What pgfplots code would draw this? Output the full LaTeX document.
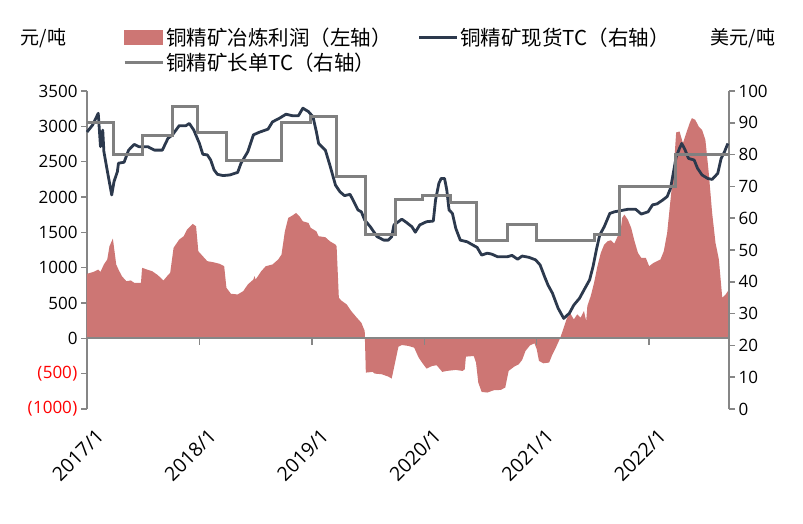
\documentclass[border=0pt]{standalone}
\usepackage{pgfplots}
\pgfplotsset{compat=1.18}
\usepackage{fontspec}
\setmainfont{Open Sans}
\newfontfamily\cjk{Noto Sans CJK SC}
\definecolor{areac}{RGB}{205,118,116}
\definecolor{spotc}{RGB}{44,57,77}
\definecolor{longc}{RGB}{128,128,128}
\definecolor{axc}{RGB}{134,134,134}
\begin{document}
\begin{tikzpicture}
\path[use as bounding box] (-87pt,-114pt) rectangle (716pt,409pt);
\begin{axis}[
  at={(0pt,0pt)}, anchor=south west,
  scale only axis, width=642pt, height=318pt,
  xmin=2017, xmax=2022.71, ymin=-1000, ymax=3500,
  axis y line*=left, axis x line*=bottom,
  x axis line style={draw=none},
  y axis line style={draw=axc, line width=2pt},
  xtick={2017,2018,2019,2020,2021,2022},
  xticklabels={2017/1,2018/1,2019/1,2020/1,2021/1,2022/1},
  major x tick style={draw=none},
  ytick={-1000,-500,0,500,1000,1500,2000,2500,3000,3500},
  yticklabels={\textcolor{red}{(\kern0.5pt1000\kern0.5pt)},\textcolor{red}{(\kern0.5pt500\kern0.5pt)},0,500,1000,1500,2000,2500,3000,3500},
  major y tick style={draw=axc, line width=1.5pt},
  tick align=outside, major tick length=6pt,
  tick label style={font=\fontsize{17}{17}\selectfont, text=black},
  xticklabel style={rotate=45, anchor=east, font=\fontsize{19.5}{19.5}\selectfont, yshift=-22pt, xshift=0pt},
  clip=false,
]
\addplot[fill=areac, draw=none] coordinates {
(2017.00,913)(2017.06,941)(2017.10,974)(2017.12,941)(2017.15,1045)(2017.18,1115)(2017.20,1303)(2017.23,1412)(2017.26,1045)(2017.28,974)(2017.31,880)(2017.35,809)(2017.39,819)(2017.42,786)(2017.48,786)(2017.49,998)(2017.54,970)(2017.58,950)(2017.63,894)(2017.68,819)(2017.72,894)(2017.74,928)(2017.77,1281)(2017.82,1398)(2017.86,1445)(2017.89,1539)(2017.94,1620)(2017.97,1586)(2017.99,1233)(2018.03,1162)(2018.07,1092)(2018.12,1078)(2018.18,1054)(2018.22,1021)(2018.24,716)(2018.28,631)(2018.34,621)(2018.39,668)(2018.43,762)(2018.48,833)(2018.49,880)(2018.50,833)(2018.55,950)(2018.59,1021)(2018.65,1045)(2018.70,1115)(2018.73,1186)(2018.76,1515)(2018.79,1704)(2018.83,1741)(2018.86,1775)(2018.89,1727)(2018.92,1656)(2018.97,1633)(2018.99,1563)(2019.04,1515)(2019.06,1445)(2019.12,1431)(2019.16,1374)(2019.21,1327)(2019.22,1303)(2019.24,575)(2019.26,537)(2019.31,480)(2019.35,386)(2019.40,292)(2019.44,221)(2019.47,104)(2019.48,-485)(2019.54,-475)(2019.56,-499)(2019.62,-508)(2019.68,-541)(2019.71,-569)(2019.74,-343)(2019.77,-118)(2019.80,-94)(2019.86,-108)(2019.91,-132)(2019.95,-273)(2019.98,-343)(2020.02,-428)(2020.07,-391)(2020.11,-381)(2020.16,-475)(2020.20,-461)(2020.28,-447)(2020.34,-461)(2020.36,-438)(2020.37,-259)(2020.44,-250)(2020.46,-343)(2020.48,-626)(2020.51,-758)(2020.56,-767)(2020.62,-734)(2020.68,-730)(2020.72,-696)(2020.75,-461)(2020.80,-400)(2020.84,-367)(2020.87,-306)(2020.90,-179)(2020.94,-99)(2020.98,-71)(2021.00,-155)(2021.02,-320)(2021.06,-353)(2021.11,-343)(2021.14,-226)(2021.17,-132)(2021.21,10)(2021.24,151)(2021.27,292)(2021.30,348)(2021.33,268)(2021.36,339)(2021.39,292)(2021.42,386)(2021.44,245)(2021.45,456)(2021.48,597)(2021.51,786)(2021.54,1021)(2021.57,1210)(2021.60,1327)(2021.63,1374)(2021.66,1388)(2021.69,1341)(2021.72,1445)(2021.74,1445)(2021.76,1704)(2021.78,1751)(2021.81,1680)(2021.84,1563)(2021.87,1374)(2021.90,1210)(2021.93,1139)(2021.97,1139)(2022.00,1021)(2022.04,1069)(2022.07,1092)(2022.10,1115)(2022.13,1233)(2022.16,1492)(2022.19,1963)(2022.22,2433)(2022.24,2913)(2022.27,2927)(2022.30,2763)(2022.33,2904)(2022.36,3046)(2022.38,3116)(2022.41,3092)(2022.44,2998)(2022.47,2951)(2022.50,2810)(2022.53,2340)(2022.56,1775)(2022.59,1351)(2022.62,1115)(2022.65,575)(2022.68,621)(2022.71,692)
} \closedcycle;
\draw[axc, line width=2pt] (axis cs:2017,0) -- (axis cs:2022.71,0);
\pgfplotsinvokeforeach{2018,2019,2020,2021,2022}{\draw[axc, line width=1.5pt] (axis cs:#1,0) -- ++(0pt,-7pt);}
\node[font=\cjk\fontsize{19}{19}\selectfont] at (axis description cs:-0.068,1.167) {元/吨};
\node[font=\cjk\fontsize{19}{19}\selectfont] at (axis description cs:1.022,1.167) {美元/吨};
\end{axis}
\begin{axis}[
  at={(0pt,0pt)}, anchor=south west,
  scale only axis, width=642pt, height=318pt,
  xmin=2017, xmax=2022.71, ymin=0, ymax=100,
  axis y line*=right, axis x line=none,
  y axis line style={draw=axc, line width=2pt},
  ytick={0,10,20,30,40,50,60,70,80,90,100},
  major y tick style={draw=axc, line width=1.5pt},
  tick align=outside, major tick length=6pt,
  yticklabel style={font=\fontsize{17}{17}\selectfont, text=black, /pgf/number format/assume math mode=true},
  legend columns=2,
  legend cell align=left,
  legend style={at={(axis description cs:0.056,1.206)}, anchor=north west, draw=none, fill=none,
    font=\cjk\fontsize{20.5}{20.5}\selectfont, inner sep=0pt,
    /tikz/every even column/.append style={column sep=24pt},
    row sep=2pt},
  clip=false,
]
\addlegendimage{legend image code/.code={\fill[areac] (0pt,-7pt) rectangle (38pt,7pt);}}
\addlegendentry{铜精矿冶炼利润（左轴）}
\addplot[spotc, line width=2.8pt, line join=round, legend image code/.code={\draw[spotc, line width=2.8pt] (0pt,0pt) -- (38pt,0pt);}] coordinates {
(2017.00,87.1)(2017.05,89.3)(2017.10,93.0)(2017.12,82.5)(2017.14,87.7)(2017.15,81)(2017.18,75)(2017.22,67.3)(2017.24,71.5)(2017.27,74.6)(2017.28,77.3)(2017.33,77.6)(2017.37,81.4)(2017.42,83.2)(2017.46,82.5)(2017.54,82.5)(2017.60,81.4)(2017.67,81.4)(2017.72,85.1)(2017.76,86.2)(2017.82,89.1)(2017.88,89.1)(2017.91,89.8)(2017.95,87.7)(2018.00,83.5)(2018.03,80.1)(2018.07,79.9)(2018.10,78.3)(2018.13,75.2)(2018.16,73.8)(2018.21,73.4)(2018.27,73.6)(2018.34,74.4)(2018.37,77.3)(2018.43,80.9)(2018.48,86.2)(2018.53,87)(2018.61,88)(2018.65,90.3)(2018.71,91.4)(2018.77,92.7)(2018.83,92.2)(2018.88,92.2)(2018.92,94.6)(2018.97,93.5)(2019.01,91.9)(2019.04,87.2)(2019.06,83.5)(2019.12,81.4)(2019.16,76.7)(2019.21,70.4)(2019.25,68.3)(2019.29,67.1)(2019.34,67.5)(2019.38,64.7)(2019.41,62.6)(2019.44,62)(2019.47,59.4)(2019.52,57.3)(2019.58,54.2)(2019.64,53.1)(2019.68,53.1)(2019.71,54.2)(2019.73,57.9)(2019.77,58.9)(2019.80,59.7)(2019.84,58.7)(2019.89,57.3)(2019.92,55.6)(2019.96,57.9)(2020.02,58.9)(2020.08,59.1)(2020.10,65.7)(2020.13,71)(2020.15,72.5)(2020.18,72.5)(2020.20,68.9)(2020.22,62.6)(2020.25,61.5)(2020.28,56.8)(2020.32,53.1)(2020.38,52.6)(2020.43,51.6)(2020.47,50.8)(2020.51,48.4)(2020.56,49)(2020.60,48.7)(2020.65,47.9)(2020.74,47.9)(2020.78,48.3)(2020.83,47.1)(2020.87,48.1)(2020.93,47.7)(2020.99,46.9)(2021.03,45.3)(2021.07,41.6)(2021.10,39)(2021.14,36.4)(2021.19,31.7)(2021.24,28.5)(2021.29,30.1)(2021.33,32.7)(2021.38,34.8)(2021.42,37.4)(2021.47,40.6)(2021.50,44.7)(2021.53,50)(2021.56,54.7)(2021.60,57.3)(2021.65,61.5)(2021.69,62)(2021.75,62.4)(2021.81,62.8)(2021.88,62.8)(2021.93,61.3)(2021.99,62)(2022.03,64.2)(2022.07,64.5)(2022.12,65.7)(2022.16,66.8)(2022.19,69.4)(2022.21,73.3)(2022.24,79.3)(2022.27,82)(2022.29,83.5)(2022.32,81.4)(2022.35,78.8)(2022.40,78.3)(2022.43,75.7)(2022.47,73.6)(2022.52,72.5)(2022.56,72.2)(2022.61,74.1)(2022.64,78.8)(2022.67,80.9)(2022.70,83.5)
};
\addlegendentry{铜精矿现货TC（右轴）}
\addplot[longc, line width=3pt, const plot, legend image code/.code={\draw[longc, line width=3pt] (0pt,0pt) -- (38pt,0pt);}] coordinates {
(2017.00,90)(2017.24,80)(2017.49,86)(2017.76,95)(2017.98,87)(2018.24,78)(2018.73,90)(2018.99,92)(2019.22,73)(2019.48,55)(2019.74,66)(2019.98,67)(2020.23,65)(2020.46,53)(2020.74,58)(2021.00,53)(2021.51,55)(2021.74,70)(2022.23,80)(2022.71,80)
};
\addlegendentry{铜精矿长单TC（右轴）}
\end{axis}
\end{tikzpicture}
\end{document}
